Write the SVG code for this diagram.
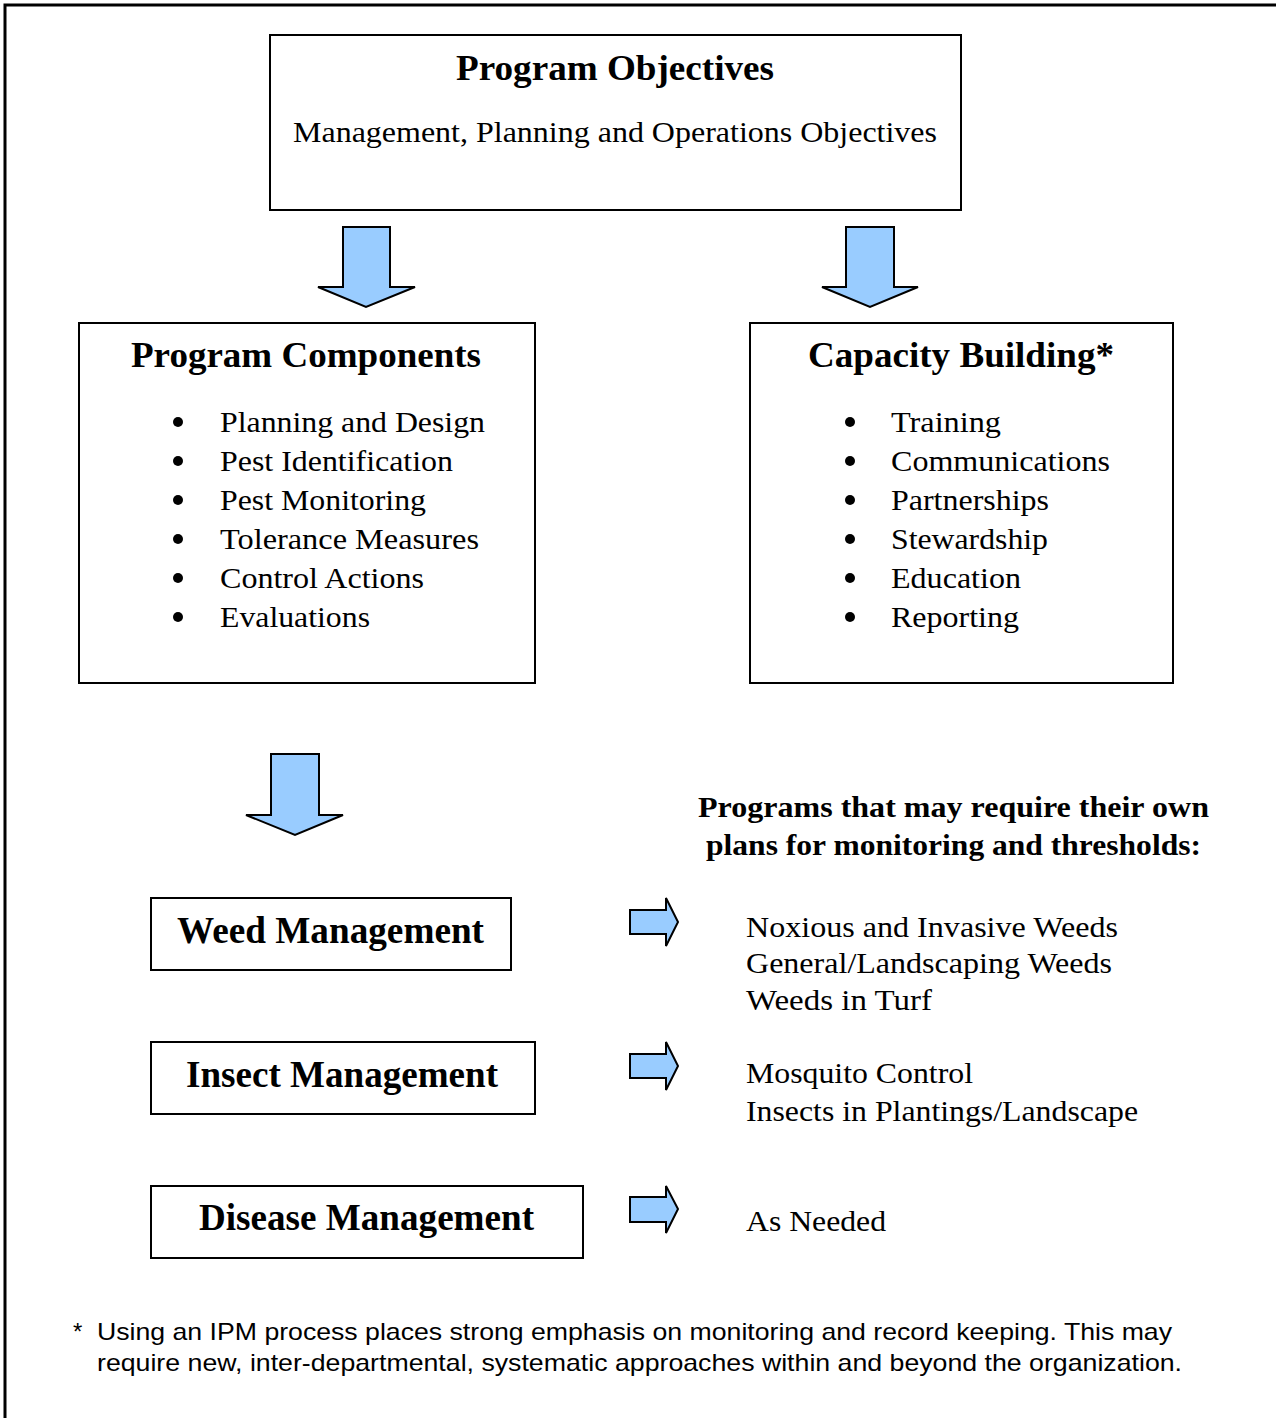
<svg xmlns="http://www.w3.org/2000/svg" width="1276" height="1418" viewBox="0 0 1276 1418">
<style>
.box{fill:#fff;stroke:#000;stroke-width:2}
.arr{fill:#99ccff;stroke:#000;stroke-width:2;stroke-linejoin:miter}
.t{font-family:"Liberation Serif","Times New Roman",serif;fill:#000}
.b{font-weight:bold}
.s{font-family:"Liberation Sans",Arial,sans-serif;fill:#000;font-size:24px}
</style>
<rect width="1276" height="1418" fill="#fff"/>
<path d="M5,1418 V5 H1276" fill="none" stroke="#000" stroke-width="3"/>
<g id="objectives">
<rect class="box" x="270" y="35" width="691" height="175"/>
<text class="t b" x="615" y="80" font-size="35" text-anchor="middle" textLength="318" lengthAdjust="spacingAndGlyphs">Program Objectives</text>
<text class="t" x="615" y="142" font-size="30" text-anchor="middle" textLength="644" lengthAdjust="spacingAndGlyphs">Management, Planning and Operations Objectives</text>
</g>
<g id="components">
<rect class="box" x="79" y="323" width="456" height="360"/>
<text class="t b" x="306" y="367" font-size="35" text-anchor="middle" textLength="350" lengthAdjust="spacingAndGlyphs">Program Components</text>
<g class="t" font-size="30">
<text x="220" y="432" textLength="265" lengthAdjust="spacingAndGlyphs">Planning and Design</text>
<text x="220" y="471" textLength="233" lengthAdjust="spacingAndGlyphs">Pest Identification</text>
<text x="220" y="510" textLength="206" lengthAdjust="spacingAndGlyphs">Pest Monitoring</text>
<text x="220" y="549" textLength="259" lengthAdjust="spacingAndGlyphs">Tolerance Measures</text>
<text x="220" y="588" textLength="204" lengthAdjust="spacingAndGlyphs">Control Actions</text>
<text x="220" y="627" textLength="150" lengthAdjust="spacingAndGlyphs">Evaluations</text>
</g>
<g fill="#000">
<circle cx="178" cy="422" r="5"/><circle cx="178" cy="461" r="5"/><circle cx="178" cy="500" r="5"/>
<circle cx="178" cy="539" r="5"/><circle cx="178" cy="578" r="5"/><circle cx="178" cy="617" r="5"/>
</g>
</g>
<g id="capacity">
<rect class="box" x="750" y="323" width="423" height="360"/>
<text class="t b" x="961" y="367" font-size="35" text-anchor="middle" textLength="306" lengthAdjust="spacingAndGlyphs">Capacity Building*</text>
<g class="t" font-size="30">
<text x="891" y="432" textLength="110" lengthAdjust="spacingAndGlyphs">Training</text>
<text x="891" y="471" textLength="219" lengthAdjust="spacingAndGlyphs">Communications</text>
<text x="891" y="510" textLength="158" lengthAdjust="spacingAndGlyphs">Partnerships</text>
<text x="891" y="549" textLength="157" lengthAdjust="spacingAndGlyphs">Stewardship</text>
<text x="891" y="588" textLength="130" lengthAdjust="spacingAndGlyphs">Education</text>
<text x="891" y="627" textLength="128" lengthAdjust="spacingAndGlyphs">Reporting</text>
</g>
<g fill="#000">
<circle cx="850" cy="422" r="5"/><circle cx="850" cy="461" r="5"/><circle cx="850" cy="500" r="5"/>
<circle cx="850" cy="539" r="5"/><circle cx="850" cy="578" r="5"/><circle cx="850" cy="617" r="5"/>
</g>
</g>
<g id="programs-heading">
<text class="t b" x="953.5" y="817" font-size="30" text-anchor="middle" textLength="511" lengthAdjust="spacingAndGlyphs">Programs that may require their own</text>
<text class="t b" x="953.5" y="855" font-size="30" text-anchor="middle" textLength="495" lengthAdjust="spacingAndGlyphs">plans for monitoring and thresholds:</text>
</g>
<g id="weed">
<rect class="box" x="151" y="898" width="360" height="72"/>
<text class="t b" x="330.5" y="943" font-size="37" text-anchor="middle" textLength="307" lengthAdjust="spacingAndGlyphs">Weed Management</text>
</g>
<g id="insect">
<rect class="box" x="151" y="1042" width="384" height="72"/>
<text class="t b" x="342" y="1087" font-size="37" text-anchor="middle" textLength="312" lengthAdjust="spacingAndGlyphs">Insect Management</text>
</g>
<g id="disease">
<rect class="box" x="151" y="1186" width="432" height="72"/>
<text class="t b" x="366.5" y="1230" font-size="37" text-anchor="middle" textLength="335" lengthAdjust="spacingAndGlyphs">Disease Management</text>
</g>
<g id="weed-list" class="t" font-size="30">
<text x="746" y="937" textLength="372" lengthAdjust="spacingAndGlyphs">Noxious and Invasive Weeds</text>
<text x="746" y="973" textLength="366" lengthAdjust="spacingAndGlyphs">General/Landscaping Weeds</text>
<text x="746" y="1010" textLength="186" lengthAdjust="spacingAndGlyphs">Weeds in Turf</text>
</g>
<g id="insect-list" class="t" font-size="30">
<text x="746" y="1083" textLength="227" lengthAdjust="spacingAndGlyphs">Mosquito Control</text>
<text x="746" y="1121" textLength="392" lengthAdjust="spacingAndGlyphs">Insects in Plantings/Landscape</text>
</g>
<g id="disease-list" class="t" font-size="30">
<text x="746" y="1231" textLength="140" lengthAdjust="spacingAndGlyphs">As Needed</text>
</g>
<g id="connectors">
<path class="arr" d="M343,227 H390 V287 H415 L366,307 L318,287 H343 Z"/>
<path class="arr" d="M846,227 H894 V287 H918 L870,307 L822,287 H846 Z"/>
<path class="arr" d="M271,754 H319 V815 H343 L295,835 L246,815 H271 Z"/>
<path class="arr" d="M630,910 H666 V898 L678,922 L666,946 V934 H630 Z"/>
<path class="arr" d="M630,1054 H666 V1042 L678,1066 L666,1090 V1078 H630 Z"/>
<path class="arr" d="M630,1197 H666 V1186 L678,1209 L666,1233 V1222 H630 Z"/>
</g>
<g id="footnote">
<text class="s" x="73" y="1340">*</text>
<text class="s" x="97" y="1340" textLength="1075" lengthAdjust="spacingAndGlyphs">Using an IPM process places strong emphasis on monitoring and record keeping. This may</text>
<text class="s" x="97" y="1371" textLength="1085" lengthAdjust="spacingAndGlyphs">require new, inter-departmental, systematic approaches within and beyond the organization.</text>
</g>
</svg>
